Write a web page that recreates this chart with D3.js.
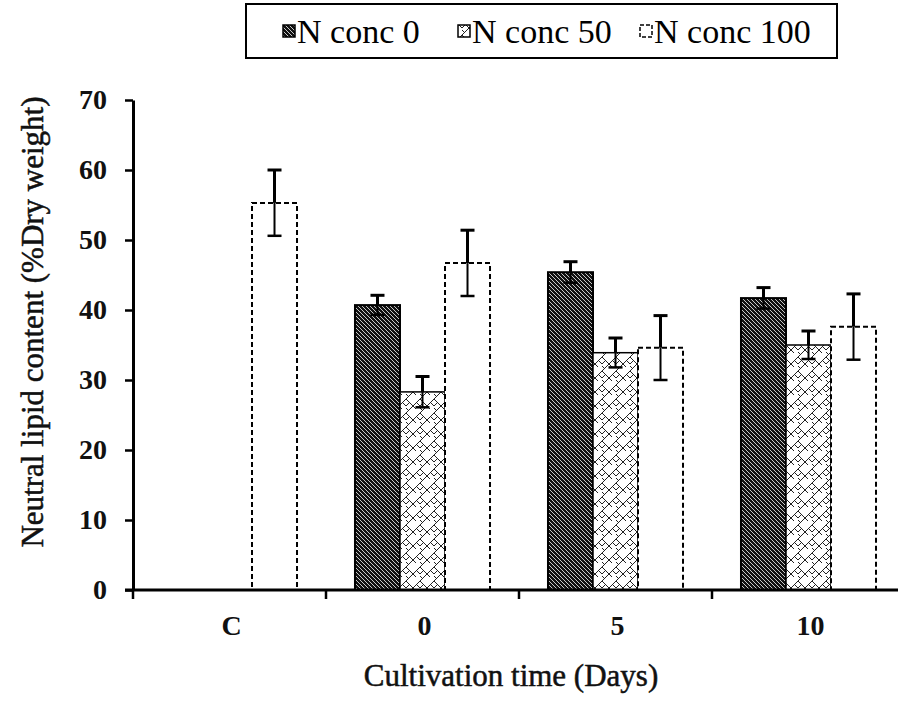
<!DOCTYPE html>
<html><head><meta charset="utf-8">
<script src="https://cdn.jsdelivr.net/npm/d3@7/dist/d3.min.js"></script>
<style>body{margin:0;background:#fff}svg{display:block}
text{font-family:"Liberation Serif","Times New Roman","DejaVu Serif",serif;}</style>
</head><body><svg id="c" width="898" height="708"></svg>
<script>
const categories = ["C", "0", "5", "10"];
const seriesNames = ["N conc 0", "N conc 50", "N conc 100"];
const nConc0 = [null, 40.7, 45.4, 41.7];
const nConc50 = [null, 28.3, 33.9, 35.0];
const nConc100 = [55.3, 46.7, 34.6, 37.6];
const err0 = [null, 1.4, 1.5, 1.5];
const err50 = [null, 2.2, 2.1, 2.0];
const err100 = [4.7, 4.7, 4.6, 4.7];
const yTicks = [0, 10, 20, 30, 40, 50, 60, 70];

const values = [nConc0, nConc50, nConc100];
const errs = [err0, err50, err100];
const FONT = '"Liberation Serif","Times New Roman","DejaVu Serif",serif';

const svg = d3.select("#c");
const defs = svg.append("defs");
const p0 = defs.append("pattern").attr("id","p0").attr("patternUnits","userSpaceOnUse").attr("width",4).attr("height",4);
p0.append("rect").attr("width",4).attr("height",4).attr("fill","#111");
p0.append("path").attr("d","M-1,-1 L5,5 M-1,3 L1,5 M3,-1 L5,1").attr("stroke","#ddd").attr("stroke-width",0.9);
const p1 = defs.append("pattern").attr("id","p1").attr("patternUnits","userSpaceOnUse").attr("width",14).attr("height",14);
p1.append("rect").attr("width",14).attr("height",14).attr("fill","#fff");
p1.append("path").attr("d","M0,7 L7,0 M7,14 L14,7 M0,7 L7,14 M7,0 L10,3 M11,11 L14,14 M-1,1 L2,4 M4,10 L0,14")
  .attr("stroke","#222").attr("stroke-width",1).attr("fill","none");

const x0 = d3.scaleBand().domain(categories).range([133, 905]);
const x1 = d3.scaleBand().domain(seriesNames).range([0, x0.bandwidth()]).paddingInner(0).paddingOuter(0.644);
const y = d3.scaleLinear().domain([0, 70]).range([590, 100]);

const fills = ["url(#p0)", "url(#p1)", "#fff"];
const dashes = [null, null, "5,3"];
const sw = [2, 1.5, 2];

seriesNames.forEach((s, si) => {
  const data = categories.map((c, ci) => ({c, v: values[si][ci], e: errs[si][ci]})).filter(d => d.v != null);
  svg.append("g").selectAll("rect").data(data).join("rect")
    .attr("x", d => x0(d.c) + x1(s))
    .attr("y", d => y(d.v))
    .attr("width", x1.bandwidth())
    .attr("height", d => y(0) - y(d.v))
    .attr("fill", fills[si]).attr("stroke", "#000").attr("stroke-width", sw[si])
    .attr("stroke-dasharray", dashes[si]);
});
seriesNames.forEach((s, si) => {
  const data = categories.map((c, ci) => ({c, v: values[si][ci], e: errs[si][ci]})).filter(d => d.v != null);
  const g = svg.append("g").attr("stroke", "#000");
  data.forEach(d => {
    const cx = x0(d.c) + x1(s) + x1.bandwidth()/2;
    g.append("line").attr("x1",cx).attr("x2",cx).attr("y1",y(d.v+d.e)).attr("y2",y(d.v)).attr("stroke-width",3);
    g.append("line").attr("x1",cx).attr("x2",cx).attr("y1",y(d.v)).attr("y2",y(d.v-d.e)).attr("stroke-width",2);
    g.append("line").attr("x1",cx-7).attr("x2",cx+7).attr("y1",y(d.v+d.e)).attr("y2",y(d.v+d.e)).attr("stroke-width",3);
    g.append("line").attr("x1",cx-7).attr("x2",cx+7).attr("y1",y(d.v-d.e)).attr("y2",y(d.v-d.e)).attr("stroke-width",2.5);
  });
});

const yAxis = d3.axisLeft(y).tickValues(yTicks).tickSize(8).tickSizeOuter(0).tickPadding(18);
const ga = svg.append("g").attr("transform","translate(133,0)").call(yAxis);
ga.attr("font-family", FONT);
ga.select(".domain").attr("stroke","#000").attr("stroke-width",3);
ga.selectAll(".tick line").attr("stroke","#000").attr("stroke-width",2.5);
ga.selectAll(".tick text").attr("font-family",FONT).attr("font-weight","bold").attr("font-size",28).attr("fill","#111");

const xa = svg.append("g").attr("transform","translate(0,590)");
xa.append("line").attr("x1",125).attr("x2",905).attr("y1",0).attr("y2",0).attr("stroke","#000").attr("stroke-width",3);
const boundaries = categories.map(c => x0(c));
xa.selectAll("line.tk").data(boundaries).join("line").attr("class","tk")
  .attr("x1",d=>d).attr("x2",d=>d).attr("y1",0).attr("y2",9).attr("stroke","#000").attr("stroke-width",2.5);
xa.selectAll("text").data(categories).join("text")
  .attr("x", c => x0(c) + x0.bandwidth()/2 + 2).attr("y", 45)
  .attr("text-anchor","middle").attr("font-family",FONT).attr("font-weight","bold").attr("font-size",28).attr("fill","#111")
  .text(c => c);

svg.append("text").attr("x", 511).attr("y", 686).attr("text-anchor","middle")
  .attr("font-family",FONT).attr("font-size",31).attr("fill","#111").attr("stroke","#111").attr("stroke-width",0.5)
  .text("Cultivation time (Days)");
svg.append("text").attr("transform","translate(43,322) rotate(-90)").attr("text-anchor","middle")
  .attr("font-family",FONT).attr("font-size",31).attr("fill","#111").attr("stroke","#111").attr("stroke-width",0.5)
  .text("Neutral lipid content (%Dry weight)");

const lg = svg.append("g");
lg.append("rect").attr("x",246).attr("y",4).attr("width",591).attr("height",54).attr("fill","#fff").attr("stroke","#000").attr("stroke-width",2);
const legX = [283, 458, 640];
seriesNames.forEach((s, i) => {
  lg.append("rect").attr("x", legX[i]).attr("y", 25).attr("width", 12).attr("height", 12)
    .attr("fill", fills[i]).attr("stroke","#000").attr("stroke-width", 1.5).attr("stroke-dasharray", i==2?"4,2":null);
  lg.append("text").attr("x", legX[i] + 14).attr("y", 43)
    .attr("font-family",FONT).attr("font-size",34).attr("fill","#000").text(s);
});
</script></body></html>
